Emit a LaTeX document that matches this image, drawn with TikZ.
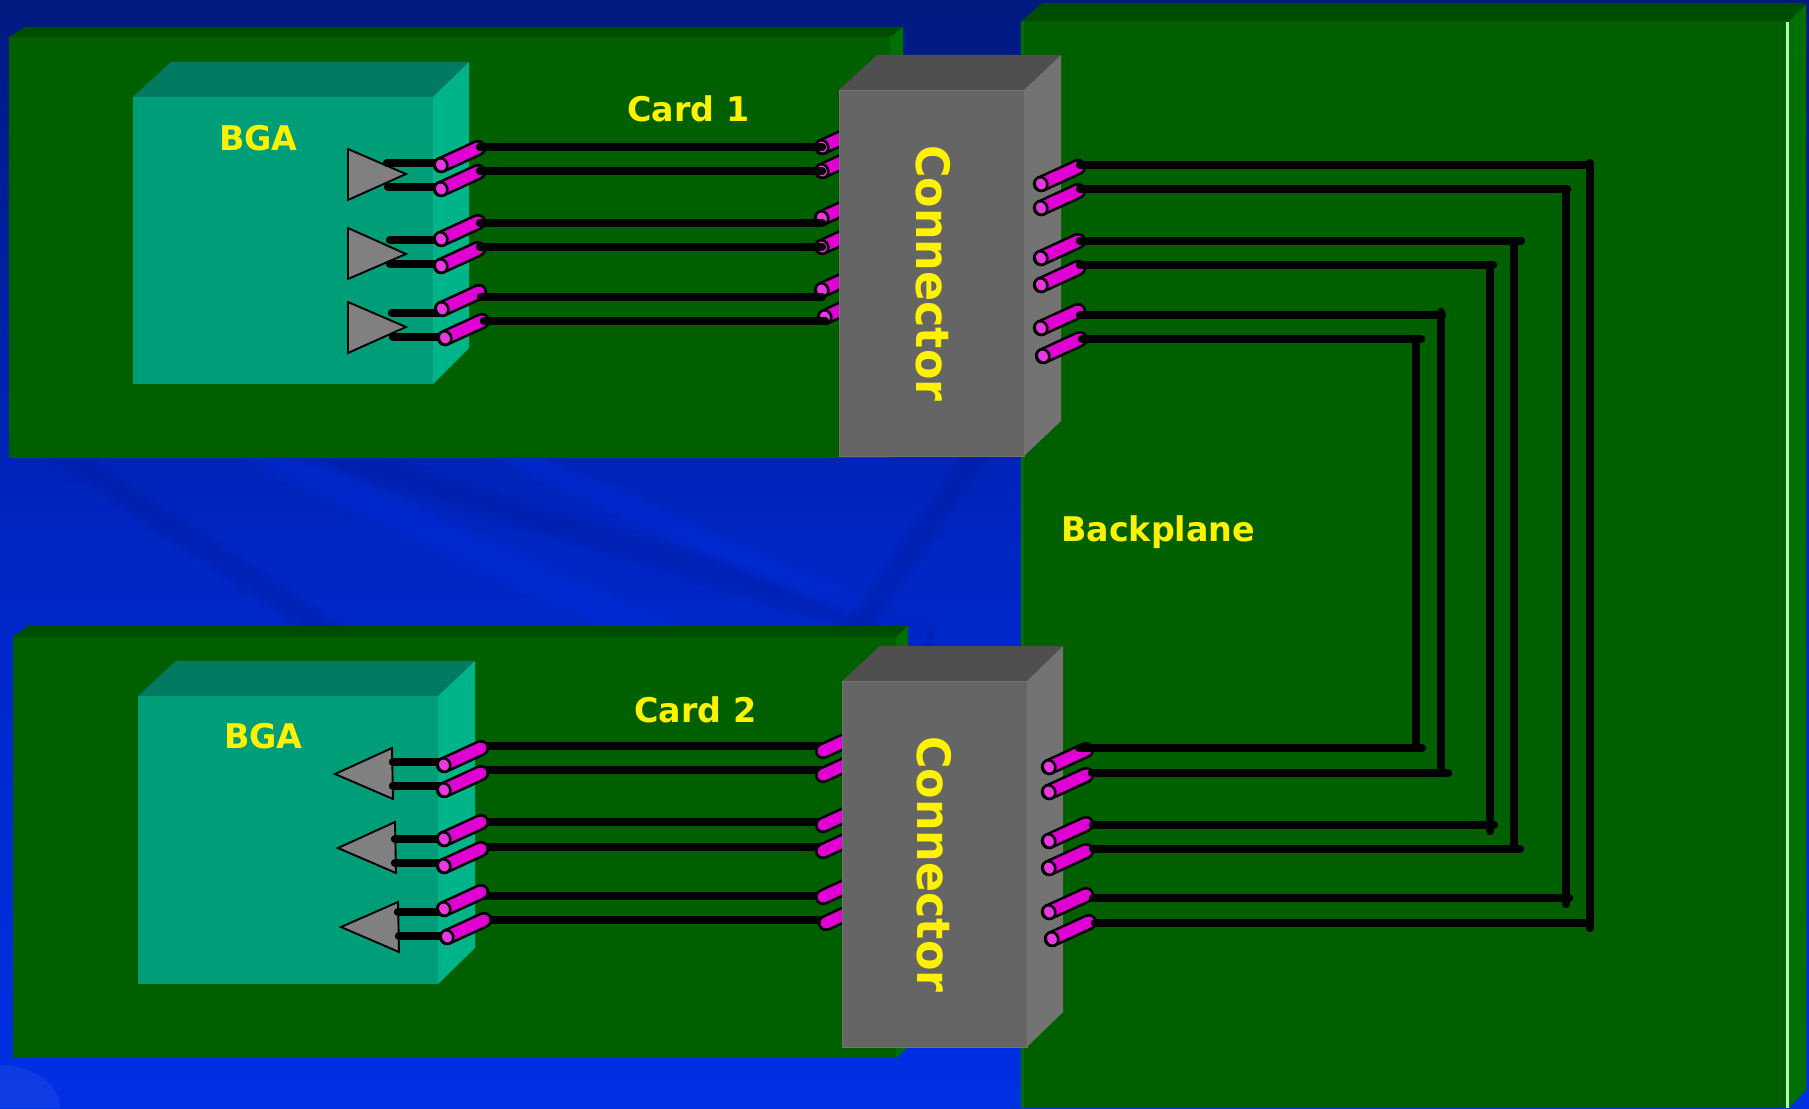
\documentclass[tikz,border=0pt]{standalone}
\usepackage{fontspec}
\newfontfamily\lab[FakeStretch=0.98]{DejaVu Sans Bold}
\newfontfamily\labc[FakeStretch=0.965]{DejaVu Sans Bold}
\definecolor{cardfront}{HTML}{006000}
\definecolor{cardtop}{HTML}{004C00}
\definecolor{cardside}{HTML}{007000}
\definecolor{bgafront}{HTML}{009E78}
\definecolor{bgatop}{HTML}{007A60}
\definecolor{bgaside}{HTML}{00B48A}
\definecolor{confront}{HTML}{656565}
\definecolor{contop}{HTML}{4F4F4F}
\definecolor{conside}{HTML}{737373}
\definecolor{pinbody}{HTML}{E000D4}
\definecolor{pinface}{HTML}{E838E0}
\definecolor{trigray}{HTML}{808080}
\definecolor{blueA}{HTML}{001A80}
\definecolor{blueB}{HTML}{0026C4}
\definecolor{blueC}{HTML}{0030E4}
\definecolor{blueD}{HTML}{001CA0}
\tikzset{
  wire/.style={line width=8.4pt,line cap=round,black},
  tri/.style={draw=black,line width=1.9pt,fill=trigray,line join=miter},
  lbl/.style={text=yellow,inner sep=0pt,anchor=base west,font=\lab\fontsize{34}{34}\selectfont},
  conlbl/.style={text=yellow,inner sep=0pt,anchor=base west,rotate=-90,font=\labc\fontsize{46}{46}\selectfont},
  band/.style={opacity=.16},
  pics/cyl/.style={code={
    \draw[line width=16.4pt,line cap=round,black] (0,0) -- (37,-17);
    \draw[line width=11.2pt,line cap=round,pinbody] (0,0) -- (37,-17);
    \draw[line width=2.6pt,fill=pinface,rotate=25] (0,0) circle [x radius=6.2pt,y radius=7pt];
    \coordinate (-near) at (0,0);
    \coordinate (-far) at (39,-18);
  }},
  pics/capsule/.style={code={
    \draw[line width=16.4pt,line cap=round,black] (0,0) -- (37,-17);
    \draw[line width=11.2pt,line cap=round,pinbody] (0,0) -- (37,-17);
    \coordinate (-near) at (0,0);
    \coordinate (-far) at (39,-18);
  }}
}
% horizontal wire between the x of two named points, at height #3
\newcommand{\hwire}[3]{\coordinate (hh) at (0,#3);\draw[wire] (#1 |- hh) -- (#2 |- hh);}
\begin{document}
\begin{tikzpicture}[x=1pt,y=-1pt]
\useasboundingbox (0,0) rectangle (1809,1108);
% background
\shade[top color=blueA,bottom color=blueC,middle color=blueB] (0,0) rectangle (1809,1108);
\foreach \a/\b/\c/\d/\w/\col in {283/440/932/640/34/blueD,50/445/341/640/30/blueD,246/445/670/640/36/blueC,491/445/926/640/28/blueC,1000/420/850/640/30/blueD}{
  \draw[band,line width=\w pt,\col] (\a,\b) -- (\c,\d);
  \draw[band,line width=.7*\w pt,\col] (\a,\b) -- (\c,\d);
  \draw[band,line width=.4*\w pt,\col] (\a,\b) -- (\c,\d);
}
\fill[blueC!70!white,opacity=.2] (0,1108) -- (0,1065) arc[start angle=90,end angle=0,x radius=60pt,y radius=43pt] -- cycle;
% backplane
\fill[cardtop] (1022,21) -- (1042,3) -- (1806,3) -- (1789,21) -- cycle;
\fill[cardside] (1789,21) -- (1806,4) -- (1806,1090) -- (1789,1108) -- cycle;
\fill[cardfront] (1022,21) rectangle (1789,1108);
\fill[cardside] (1021,21) rectangle (1024,1108);
\fill[green!30!white] (1786,22) rectangle (1789,1108);
% card 1
\fill[cardtop] (9,37) -- (25,27) -- (903,27) -- (890,37) -- cycle;
\fill[cardside] (890,37) -- (903,27) -- (903,447) -- (890,458) -- cycle;
\fill[cardfront] (9,37) rectangle (890,458);
% card 2
\fill[cardtop] (13,637) -- (27,626) -- (908,626) -- (896,637) -- cycle;
\fill[cardside] (896,637) -- (908,626) -- (908,1047) -- (896,1058) -- cycle;
\fill[cardfront] (13,637) rectangle (896,1058);
% BGA 1
\fill[bgatop] (133,97) -- (171,62) -- (469,62) -- (433,97) -- cycle;
\fill[bgaside] (433,97) -- (469,62) -- (469,348) -- (433,384) -- cycle;
\fill[bgafront] (133,97) rectangle (433,384);
% BGA 2
\fill[bgatop] (138,696) -- (176,661) -- (475,661) -- (438,696) -- cycle;
\fill[bgaside] (438,696) -- (475,661) -- (475,948) -- (438,984) -- cycle;
\fill[bgafront] (138,696) rectangle (438,984);
% drivers card 1
\draw[tri] (348,149) -- (406,174) -- (348,200) -- cycle;
\draw[tri] (348,228) -- (406,254) -- (348,279) -- cycle;
\draw[tri] (348,302) -- (406,327) -- (348,353) -- cycle;
% receivers card 2
\draw[tri] (335,774) -- (392,748) -- (393,799) -- cycle;
\draw[tri] (338,848) -- (395,822) -- (396,873) -- cycle;
\draw[tri] (341,927) -- (398,902) -- (399,952) -- cycle;
% named stubs in the driver and receiver triangles
\foreach \n/\x/\y in {1/387/163,2/388/187,3/390/240,4/390/264,5/392/313,6/393/337}{\coordinate (ta\n) at (\x,\y);}
\foreach \n/\x/\y in {1/393/762,2/393/786,3/395/839,4/395/863,5/398/912,6/399/936}{\coordinate (tb\n) at (\x,\y);}
% pin anchors
\foreach \n/\x/\y in {1/441/165,2/441/189,3/441/239,4/441/266,5/442/309,6/445/338}{\coordinate (pa\n) at (\x,\y);}
\foreach \n/\x/\y in {1/444/765,2/444/790,3/444/839,4/444/866,5/444/909,6/447/937}{\coordinate (pb\n) at (\x,\y);\coordinate (fb\n) at (\x+39,\y-18);}
% BGA side stubs
\foreach \n in {1,...,6}{\draw[wire] (ta\n) -- (ta\n -| pa\n);}
\foreach \n in {1,...,6}{\draw[wire] (tb\n) -- (tb\n -| pb\n);}
% BGA pins card 1
\foreach \n in {1,...,6}{\pic (a\n) at (pa\n) {cyl};}
% connector 1 left pins
\pic (l1) at (822,147) {cyl};
\pic (l2) at (822,171) {cyl};
\pic (l3) at (822,218) {cyl};
\pic (l4) at (822,247) {cyl};
\pic (l5) at (822,290) {cyl};
\pic (l6) at (825,317) {cyl};
% card 1 traces
\foreach \n/\y in {1/147,2/171,3/223,4/247,5/297,6/321}{\hwire{a\n-far}{l\n-near}{\y}}
% card 2 traces, under the pins
\foreach \n/\x/\y in {1/823/751,2/823/775,3/823/825,4/823/851,5/823/897,6/826/923}{\coordinate (pr\n) at (\x,\y);}
\foreach \n/\y in {1/746,2/770,3/822,4/847,5/896,6/920}{\hwire{fb\n}{pr\n}{\y}}
\foreach \n in {1,...,6}{\pic (b\n) at (pb\n) {cyl};}
\foreach \n in {1,...,6}{\pic (r\n) at (pr\n) {capsule};}
% connector 1
\fill[contop] (839,90) -- (877,55) -- (1061,55) -- (1024,90) -- cycle;
\fill[conside] (1024,90) -- (1061,55) -- (1061,421) -- (1024,456) -- cycle;
\draw[draw=conside,line width=1pt,fill=confront] (839.5,90.5) rectangle (1024,456);
% connector 2
\fill[contop] (842,681) -- (880,646) -- (1063,646) -- (1027,681) -- cycle;
\fill[conside] (1027,681) -- (1063,646) -- (1063,1012) -- (1027,1047) -- cycle;
\draw[draw=conside,line width=1pt,fill=confront] (842.5,681.5) rectangle (1027,1047);
% backplane pins
\pic (u1) at (1041,184) {cyl};
\pic (u2) at (1041,208) {cyl};
\pic (u3) at (1041,258) {cyl};
\pic (u4) at (1041,285) {cyl};
\pic (u5) at (1041,328) {cyl};
\pic (u6) at (1043,356) {cyl};
\pic (v1) at (1049,767) {cyl};
\pic (v2) at (1049,792) {cyl};
\pic (v3) at (1049,841) {cyl};
\pic (v4) at (1049,868) {cyl};
\pic (v5) at (1049,912) {cyl};
\pic (v6) at (1052,939) {cyl};
% backplane traces
\foreach \p/\yt/\xte/\vt/\vx/\vb/\yb/\xbe/\xbs in {
  1/165/1590/163/1590/928/923/1590/1095,
  2/189/1567/189/1566/904/898/1569/1093,
  3/241/1521/241/1514/849/849/1520/1093,
  4/265/1493/265/1490/831/825/1494/1093,
  5/315/1442/312/1441/773/773/1448/1092,
  6/339/1421/339/1416/748/748/1422/1079}{
  \coordinate (hh) at (0,\yt);
  \coordinate (ts\p) at (u\p-far |- hh);
  \coordinate (te\p) at (\xte,\yt);
  \coordinate (vs\p) at (\vx,\vt);
  \coordinate (ve\p) at (\vx,\vb);
  \coordinate (bs\p) at (\xbs,\yb);
  \coordinate (be\p) at (\xbe,\yb);
  \draw[wire] (ts\p) -- (te\p);
  \draw[wire] (vs\p) -- (ve\p);
  \draw[wire] (bs\p) -- (be\p);
}
% labels
\node[lbl] (card1) at (627,121) {Card 1};
\node[lbl] (card2) at (634,722) {Card 2};
\node[lbl] (bga1) at (219,150) {BGA};
\node[lbl] (bga2) at (224,748.5) {BGA};
\node[lbl] (backplane) at (1061,541) {Backplane};
\node[conlbl] (con1) at (916,145) {Connector};
\node[conlbl] (con2) at (917.5,736) {Connector};
\end{tikzpicture}
\end{document}
